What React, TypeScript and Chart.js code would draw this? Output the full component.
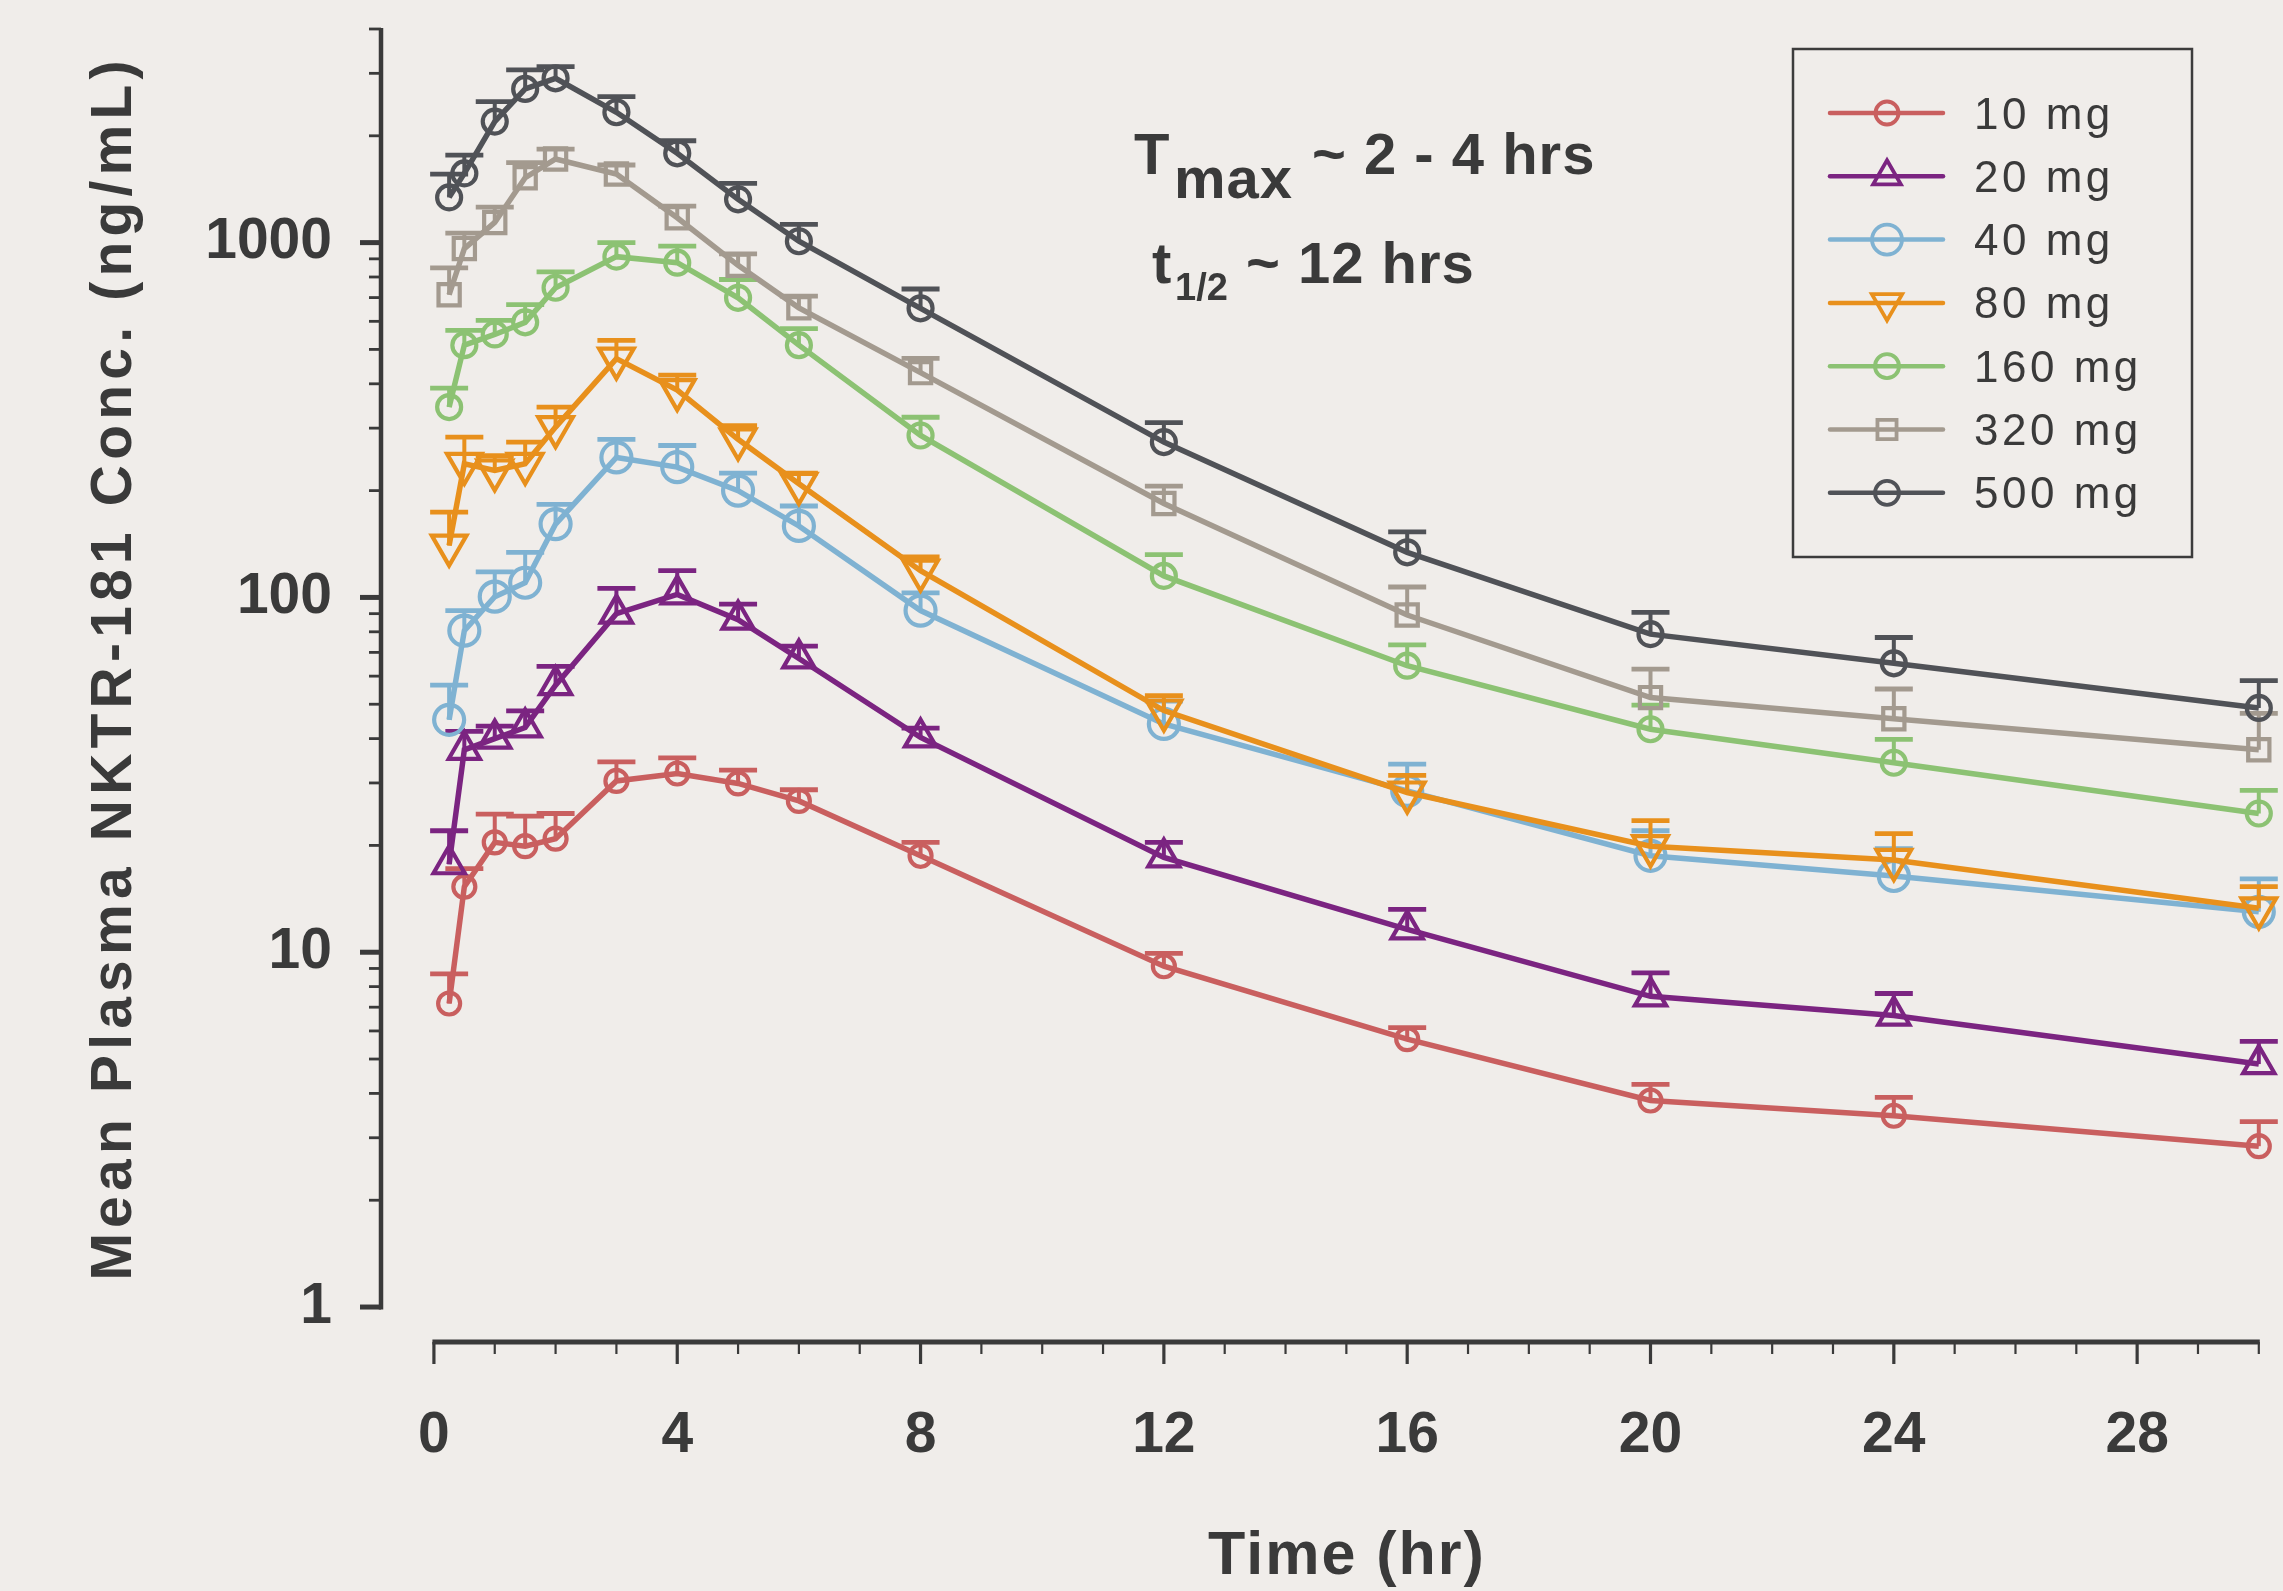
import React, { useEffect, useRef } from 'react';
import { Chart, registerables } from 'chart.js';

Chart.register(...registerables);

// ---------------- data ----------------
const timeHr = [0.25, 0.5, 1, 1.5, 2, 3, 4, 5, 6, 8, 12, 16, 20, 24, 30];
const doseLabels = ['10 mg', '20 mg', '40 mg', '80 mg', '160 mg', '320 mg', '500 mg'];

const mean10 = [7.17, 15.3, 20.4, 19.9, 20.9, 30.4, 31.9, 29.9, 26.7, 18.7, 9.13, 5.69, 3.82, 3.46, 2.84];
const upper10 = [8.69, 17.2, 24.5, 24.2, 24.6, 34.4, 35.3, 32.6, 28.7, 20.4, 9.92, 6.13, 4.24, 3.9, 3.33];

const mean20 = [17.7, 37.2, 40.0, 43.0, 56.6, 90, 102, 86.6, 67.3, 40.3, 18.5, 11.6, 7.51, 6.63, 4.84];
const upper20 = [22.0, 41.9, 43.4, 47.9, 63.9, 106, 119, 95.8, 72.9, 42.8, 20.4, 13.2, 8.75, 7.65, 5.61];

const mean40 = [45.2, 80.6, 100.5, 110, 161, 248, 233, 200, 159, 91.8, 44, 28.5, 18.7, 16.4, 13.0];
const upper40 = [56.6, 91.8, 118, 134, 183, 279, 268, 224, 181, 103, 51, 33.9, 22.0, 19.6, 16.1];

const mean80 = [140, 238, 228, 238, 302, 471, 384, 279, 209, 119, 48, 28.2, 19.9, 18.2, 13.3];
const upper80 = [174, 283, 251, 274, 344, 530, 423, 305, 224, 130, 52.9, 31.5, 23.5, 21.6, 15.3];

const mean160 = [344, 514, 551, 596, 746, 913, 878, 699, 514, 286, 115, 64.2, 42.5, 34.2, 24.6];
const upper160 = [389, 566, 604, 669, 827, 1000, 977, 787, 572, 322, 132, 73.5, 49.7, 39.8, 28.6];

const mean320 = [713, 962, 1140, 1524, 1721, 1561, 1175, 863, 655, 430, 184, 89.2, 52.2, 45.5, 37.2];
const upper320 = [849, 1064, 1259, 1680, 1835, 1655, 1267, 929, 707, 472, 206, 107, 62.8, 55.2, 47.1];

const mean500 = [1341, 1567, 2193, 2711, 2905, 2330, 1785, 1324, 1009, 653, 274, 134, 78.8, 65.2, 48.8];
const upper500 = [1560, 1765, 2496, 3069, 3135, 2578, 1937, 1469, 1125, 740, 311, 153, 90.8, 77.1, 58.3];

const xTickValues = [0, 4, 8, 12, 16, 20, 24, 28];
const yTickValues = [1, 10, 100, 1000];

const seriesMeans = [mean10, mean20, mean40, mean80, mean160, mean320, mean500];
const seriesUpper = [upper10, upper20, upper40, upper80, upper160, upper320, upper500];

// ---------------- styles ----------------
const BG = '#F0EDEA';
const INK = '#3A3A3A';
const FONT = "'Liberation Sans', Arial, sans-serif";
const colors = ['#C95F5F', '#7B2481', '#7FB2D2', '#E8901C', '#8CC273', '#A39A8F', '#505257'];
const pointStyles = ['circle', 'triangle', 'circle', 'triangle', 'circle', 'rect', 'circle'];
const pointRotations = [0, 0, 0, 180, 0, 0, 0];
const pointRadii = [11, 18, 15, 20, 12, 15, 12];
const LINE_W = 5.5;
const MARK_W = 4.2;

function drawMarker(ctx: CanvasRenderingContext2D, style: string, rot: number, r: number, x: number, y: number) {
  ctx.beginPath();
  if (style === 'circle') {
    ctx.arc(x, y, r, 0, Math.PI * 2);
  } else if (style === 'rect') {
    const s = Math.SQRT1_2 * r;
    ctx.rect(x - s, y - s, 2 * s, 2 * s);
  } else if (style === 'triangle') {
    let rad = (rot * Math.PI) / 180;
    ctx.moveTo(x + Math.sin(rad) * r, y - Math.cos(rad) * r);
    rad += (2 * Math.PI) / 3;
    ctx.lineTo(x + Math.sin(rad) * r, y - Math.cos(rad) * r);
    rad += (2 * Math.PI) / 3;
    ctx.lineTo(x + Math.sin(rad) * r, y - Math.cos(rad) * r);
    ctx.closePath();
  }
  ctx.stroke();
}

const decorPlugin = {
  id: 'pkDecor',
  beforeDraw(chart: any) {
    const { ctx, width, height } = chart;
    ctx.save();
    ctx.fillStyle = BG;
    ctx.fillRect(0, 0, width, height);
    ctx.restore();
  },
  beforeDatasetsDraw(chart: any) {
    const { ctx, chartArea } = chart;
    const xs = chart.scales.x;
    const ys = chart.scales.y;
    ctx.save();
    ctx.strokeStyle = INK;
    ctx.lineCap = 'butt';
    // y axis line
    const axX = chartArea.left;
    ctx.lineWidth = 4.5;
    ctx.beginPath();
    ctx.moveTo(axX, ys.getPixelForValue(1) + 2.5);
    ctx.lineTo(axX, ys.getPixelForValue(4000) - 1);
    ctx.stroke();
    // y ticks
    for (let dec = 1; dec <= 1000; dec *= 10) {
      for (let m = 1; m <= 9; m++) {
        const v = dec * m;
        if (v > 4000) break;
        const py = ys.getPixelForValue(v);
        const major = m === 1;
        ctx.lineWidth = major ? 5 : 2.8;
        ctx.beginPath();
        ctx.moveTo(axX - (major ? 21 : 12), py);
        ctx.lineTo(axX, py);
        ctx.stroke();
      }
    }
    // x axis line
    const axY = chartArea.bottom;
    ctx.lineWidth = 5;
    ctx.beginPath();
    ctx.moveTo(xs.getPixelForValue(0) - 1.5, axY);
    ctx.lineTo(xs.getPixelForValue(30) + 1, axY);
    ctx.stroke();
    for (let h = 0; h <= 30; h++) {
      const px = xs.getPixelForValue(h);
      const major = h % 4 === 0;
      ctx.lineWidth = major ? 3.2 : 2.2;
      ctx.beginPath();
      ctx.moveTo(px, axY);
      ctx.lineTo(px, axY + (major ? 22 : 12));
      ctx.stroke();
    }
    ctx.restore();
  },
  afterDatasetDraw(chart: any, args: any) {
    const { ctx } = chart;
    const ys = chart.scales.y;
    const idx = args.index;
    const upper = seriesUpper[idx];
    ctx.save();
    ctx.strokeStyle = colors[idx];
    ctx.lineCap = 'butt';
    args.meta.data.forEach((pt: any, i: number) => {
      const y1 = ys.getPixelForValue(upper[i]);
      ctx.lineWidth = 4;
      ctx.beginPath();
      ctx.moveTo(pt.x, pt.y);
      ctx.lineTo(pt.x, y1);
      ctx.stroke();
      ctx.lineWidth = 4.8;
      ctx.beginPath();
      ctx.moveTo(pt.x - 19, y1);
      ctx.lineTo(pt.x + 19, y1);
      ctx.stroke();
    });
    ctx.restore();
  },
  afterDraw(chart: any) {
    const { ctx } = chart;
    ctx.save();
    // ---- legend ----
    ctx.strokeStyle = '#3C3C3C';
    ctx.lineWidth = 2.5;
    ctx.strokeRect(1793, 49, 399, 508);
    const rowY0 = 113;
    const rowStep = 63.3;
    const legendRadii = [11.5, 16, 15, 17.5, 12, 13.5, 12];
    doseLabels.forEach((lab, i) => {
      const y = rowY0 + i * rowStep;
      ctx.strokeStyle = colors[i];
      ctx.lineWidth = 4.5;
      ctx.lineCap = 'round';
      ctx.beginPath();
      ctx.moveTo(1830, y);
      ctx.lineTo(1943, y);
      ctx.stroke();
      ctx.lineCap = 'butt';
      ctx.lineWidth = 3.8;
      drawMarker(ctx, pointStyles[i], pointRotations[i], legendRadii[i], 1887, y);
      ctx.fillStyle = INK;
      ctx.font = `44px ${FONT}`;
      (ctx as any).letterSpacing = '3.5px';
      ctx.textAlign = 'left';
      ctx.textBaseline = 'alphabetic';
      ctx.fillText(lab, 1974, y + 15.5);
    });
    (ctx as any).letterSpacing = '0px';

    // ---- annotations ----
    ctx.fillStyle = INK;
    ctx.textAlign = 'left';
    ctx.textBaseline = 'alphabetic';
    ctx.font = `bold 58px ${FONT}`;
    ctx.fillText('T', 1134, 174);
    (ctx as any).letterSpacing = '1px';
    ctx.fillText('max', 1174, 198);
    ctx.fillText('~ 2 - 4 hrs', 1312, 174);
    (ctx as any).letterSpacing = '0px';
    ctx.fillText('t', 1152, 283);
    ctx.font = `bold 38px ${FONT}`;
    ctx.fillText('1/2', 1175, 300);
    ctx.font = `bold 58px ${FONT}`;
    (ctx as any).letterSpacing = '1px';
    ctx.fillText('~ 12 hrs', 1246, 283);

    // ---- axis titles ----
    ctx.font = `bold 61px ${FONT}`;
    (ctx as any).letterSpacing = '2px';
    ctx.textAlign = 'center';
    ctx.fillText('Time (hr)', 1347, 1574);

    ctx.translate(131, 668);
    ctx.rotate(-Math.PI / 2);
    ctx.font = `bold 57px ${FONT}`;
    (ctx as any).letterSpacing = '5.2px';
    ctx.textAlign = 'center';
    ctx.fillText('Mean Plasma NKTR-181 Conc. (ng/mL)', 0, 0);
    ctx.restore();
  },
};

export default function App() {
  const canvasRef = useRef<HTMLCanvasElement | null>(null);

  useEffect(() => {
    document.body.style.margin = '0';
    document.body.style.background = BG;
    const canvas = canvasRef.current;
    if (!canvas) return;

    const datasets = seriesMeans.map((vals, i) => ({
      label: doseLabels[i],
      data: timeHr.map((t, j) => ({ x: t, y: vals[j] })),
      borderColor: colors[i],
      backgroundColor: 'rgba(0,0,0,0)',
      borderWidth: LINE_W,
      pointStyle: pointStyles[i],
      pointRotation: pointRotations[i],
      pointRadius: pointRadii[i],
      pointBorderWidth: MARK_W,
      pointBorderColor: colors[i],
      pointBackgroundColor: 'rgba(0,0,0,0)',
      pointHoverRadius: pointRadii[i],
      tension: 0,
      fill: false,
      clip: false,
      order: 6 - i,
    }));

    const chart = new Chart(canvas, {
      type: 'line',
      data: { datasets },
      options: {
        responsive: false,
        maintainAspectRatio: false,
        devicePixelRatio: 1,
        animation: false,
        events: [],
        layout: { padding: { top: 29, right: 21, left: 0, bottom: 0 } },
        plugins: {
          legend: { display: false },
          tooltip: { enabled: false },
          title: { display: false },
        },
        scales: {
          x: {
            type: 'linear',
            min: -0.87,
            max: 30,
            grid: { display: false, drawTicks: false },
            border: { display: false },
            afterBuildTicks: (scale: any) => {
              scale.ticks = xTickValues.map((v) => ({ value: v }));
            },
            afterFit: (scale: any) => {
              scale.height = 249;
              scale.paddingLeft = 0;
              scale.paddingRight = 0;
            },
            ticks: {
              autoSkip: false,
              maxRotation: 0,
              padding: 60,
              color: INK,
              font: { family: FONT, size: 57, weight: 'bold' },
              callback: (v: any) => String(v),
            },
          },
          y: {
            type: 'logarithmic',
            min: 0.797,
            max: 4000,
            grid: { display: false, drawTicks: false },
            border: { display: false },
            afterBuildTicks: (scale: any) => {
              scale.ticks = yTickValues.map((v) => ({ value: v }));
            },
            afterFit: (scale: any) => {
              scale.width = 381;
              scale.paddingTop = 0;
              scale.paddingBottom = 0;
            },
            ticks: {
              autoSkip: false,
              padding: 49,
              color: INK,
              font: { family: FONT, size: 57, weight: 'bold' },
              callback: (v: any) => String(v),
            },
          },
        },
      },
      plugins: [decorPlugin],
    } as any);

    return () => {
      chart.destroy();
    };
  }, []);

  return (
    <div style={{ width: 2283, height: 1591, background: BG }}>
      <canvas ref={canvasRef} width={2283} height={1591} style={{ display: 'block', width: 2283, height: 1591 }} />
    </div>
  );
}
